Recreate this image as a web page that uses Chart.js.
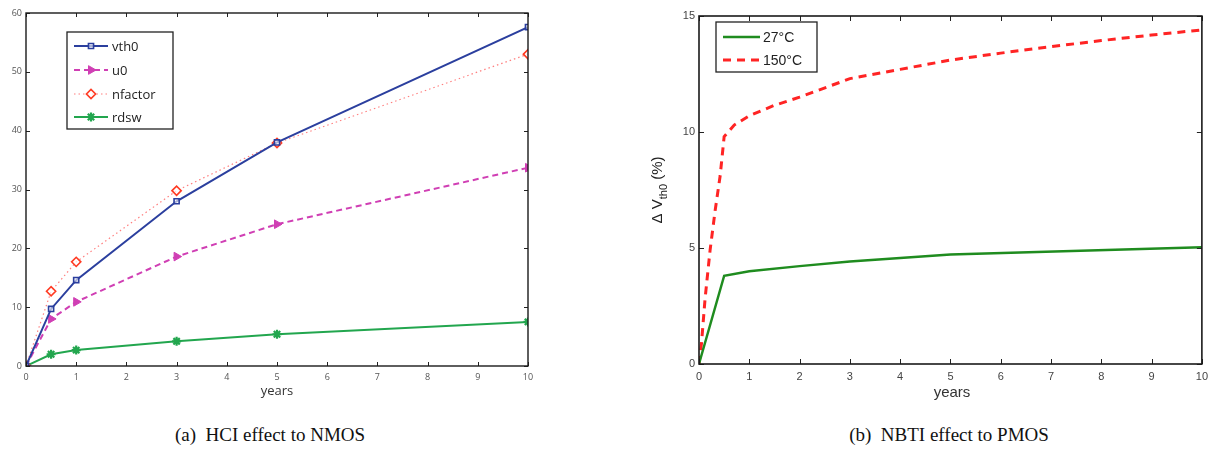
<!DOCTYPE html>
<html>
<head>
<meta charset="utf-8">
<script src="https://cdn.jsdelivr.net/npm/chart.js@4.4.1/dist/chart.umd.min.js"></script>
<style>
  html, body { margin: 0; padding: 0; background: #fff; width: 1214px; height: 467px; overflow: hidden; }
  #wrapA { position: absolute; left: 0; top: 0; width: 560px; height: 400px; }
  #wrapB { position: absolute; left: 640px; top: 0; width: 574px; height: 400px; }
  .cap { position: absolute; top: 424px; font-family: "Liberation Serif", "Times New Roman", serif; font-size: 19px; color: #111; white-space: pre; transform: translateX(-50%); }
</style>
</head>
<body>
<div id="wrapA"><canvas id="cA" width="560" height="400"></canvas></div>
<div id="wrapB"><canvas id="cB" width="574" height="400"></canvas></div>
<div class="cap" style="left:270px">(a)  HCI effect to NMOS</div>
<div class="cap" style="left:949px">(b)  NBTI effect to PMOS</div>
<script>
// ---- Data: panel (a) HCI effect to NMOS ----
const yearsA = [0, 0.5, 1, 3, 5, 10];
const vth0 = [0, 9.7, 14.6, 28.0, 38.0, 57.6];
const u0 = [0, 8.0, 10.9, 18.6, 24.1, 33.7];
const nfactor = [0, 12.7, 17.7, 29.8, 37.9, 53.0];
const rdsw = [0, 2.0, 2.7, 4.2, 5.4, 7.5];
const seriesNamesA = ["vth0", "u0", "nfactor", "rdsw"];
const xTicksA = [0, 1, 2, 3, 4, 5, 6, 7, 8, 9, 10];
const yTicksA = [0, 10, 20, 30, 40, 50, 60];

// ---- Data: panel (b) NBTI effect to PMOS ----
const years27 = [0, 0.5, 1, 2, 3, 4, 5, 10];
const dvth27 = [0, 3.8, 4.0, 4.22, 4.42, 4.57, 4.72, 5.03];
const years150 = [0, 0.05, 0.12, 0.22, 0.32, 0.42, 0.5, 0.7, 1, 1.5, 2, 3, 4, 5, 6, 7, 8, 9, 10];
const dvth150 = [0, 0.9, 2.8, 4.9, 6.6, 8.1, 9.8, 10.3, 10.7, 11.15, 11.5, 12.3, 12.7, 13.1, 13.4, 13.68, 13.94, 14.18, 14.4];
const seriesNamesB = ["27°C", "150°C"];
const xTicksB = [0, 1, 2, 3, 4, 5, 6, 7, 8, 9, 10];
const yTicksB = [0, 5, 10, 15];

const pts = (xs, ys) => xs.map((x, i) => ({ x: x, y: ys[i] }));

// Frame + inward ticks + titles + legend plugin
function makeDecor(o) {
  return {
    id: 'decor',
    afterDraw(chart) {
      const ctx = chart.ctx;
      const a = chart.chartArea;
      const xs = chart.scales.x, ys = chart.scales.y;
      ctx.save();
      // inward ticks
      ctx.strokeStyle = '#222';
      ctx.lineWidth = 1;
      ctx.beginPath();
      xs.ticks.forEach(t => {
        const px = Math.round(xs.getPixelForValue(t.value)) + 0.5;
        ctx.moveTo(px, a.bottom); ctx.lineTo(px, a.bottom - o.tick);
        ctx.moveTo(px, a.top); ctx.lineTo(px, a.top + o.tick);
      });
      ys.ticks.forEach(t => {
        const py = Math.round(ys.getPixelForValue(t.value)) + 0.5;
        ctx.moveTo(a.left, py); ctx.lineTo(a.left + o.tick, py);
        ctx.moveTo(a.right, py); ctx.lineTo(a.right - o.tick, py);
      });
      ctx.stroke();
      // frame
      ctx.lineWidth = o.frameW;
      ctx.strokeStyle = '#1a1a1a';
      ctx.strokeRect(a.left, a.top, a.right - a.left, a.bottom - a.top);
      // x title
      ctx.fillStyle = o.titleColor;
      ctx.font = o.xTitleFont;
      ctx.textAlign = 'center';
      ctx.textBaseline = 'middle';
      ctx.fillText('years', o.xTitleX, o.xTitleY);
      // y title
      if (o.drawYTitle) o.drawYTitle(ctx);
      // legend
      const L = o.legend;
      ctx.fillStyle = '#fff';
      ctx.fillRect(L.x, L.y, L.w, L.h);
      ctx.lineWidth = 1.3;
      ctx.strokeStyle = '#222';
      ctx.strokeRect(L.x, L.y, L.w, L.h);
      chart.data.datasets.forEach((ds, i) => {
        const yy = L.rowY[i];
        ctx.save();
        ctx.strokeStyle = ds.borderColor;
        ctx.lineWidth = ds.borderWidth;
        ctx.setLineDash(ds.borderDash || []);
        ctx.beginPath();
        ctx.moveTo(L.lx0, yy); ctx.lineTo(L.lx1, yy);
        ctx.stroke();
        ctx.restore();
        if (ds.pointStyle && ds.pointRadius > 0) {
          ctx.save();
          ctx.strokeStyle = ds.pointBorderColor;
          ctx.fillStyle = ds.pointBackgroundColor;
          ctx.lineWidth = ds.pointBorderWidth;
          Chart.helpers.drawPoint(ctx, { pointStyle: ds.pointStyle, rotation: ds.pointRotation || 0, radius: ds.pointRadius, borderWidth: ds.pointBorderWidth }, (L.lx0 + L.lx1) / 2, yy);
          ctx.restore();
        }
        ctx.fillStyle = '#222';
        ctx.font = L.font;
        ctx.textAlign = 'left';
        ctx.textBaseline = 'middle';
        ctx.fillText(ds.label, L.tx, yy + 1);
      });
      ctx.restore();
    }
  };
}

// ---------- Chart A ----------
new Chart(document.getElementById('cA'), {
  type: 'line',
  data: {
    datasets: [
      { label: seriesNamesA[0], data: pts(yearsA, vth0), borderColor: '#2b3f9e', borderWidth: 2,
        pointStyle: 'rect', pointRadius: 3.6, pointBorderColor: '#2b3f9e', pointBackgroundColor: 'rgba(255,255,255,0.6)', pointBorderWidth: 1.6 },
      { label: seriesNamesA[1], data: pts(yearsA, u0), borderColor: '#d03fb4', borderWidth: 2, borderDash: [6, 4],
        pointStyle: 'triangle', pointRotation: 90, pointRadius: 5, pointBorderColor: '#d03fb4', pointBackgroundColor: '#d03fb4', pointBorderWidth: 1 },
      { label: seriesNamesA[2], data: pts(yearsA, nfactor), borderColor: '#ff7f7f', borderWidth: 1.2, borderDash: [1.5, 3],
        pointStyle: 'rectRot', pointRadius: 4.6, pointBorderColor: '#ff3a22', pointBackgroundColor: 'rgba(255,255,255,0.7)', pointBorderWidth: 1.6 },
      { label: seriesNamesA[3], data: pts(yearsA, rdsw), borderColor: '#22a64e', borderWidth: 2,
        pointStyle: 'star', pointRadius: 4.5, pointBorderColor: '#22a64e', pointBackgroundColor: '#22a64e', pointBorderWidth: 2.2 }
    ]
  },
  options: {
    responsive: false, animation: false, devicePixelRatio: 1,
    layout: { padding: { left: 0, right: 32, top: 13, bottom: 0 } },
    plugins: { legend: { display: false }, tooltip: { enabled: false } },
    scales: {
      x: { type: 'linear', min: 0, max: 10,
        afterFit: s => { s.height = 34; },
        afterBuildTicks: s => { s.ticks = xTicksA.map(v => ({ value: v })); },
        grid: { display: false, drawTicks: false }, border: { display: false },
        ticks: { padding: 6, color: '#555', font: { family: 'Open Sans', size: 9 }, maxRotation: 0 } },
      y: { type: 'linear', min: 0, max: 60,
        afterFit: s => { s.width = 26; },
        afterBuildTicks: s => { s.ticks = yTicksA.map(v => ({ value: v })); },
        grid: { display: false, drawTicks: false }, border: { display: false },
        ticks: { padding: 4, color: '#555', font: { family: 'Open Sans', size: 9 } } }
    }
  },
  plugins: [makeDecor({
    tick: 4, frameW: 1.4, titleColor: '#333', xTitleFont: '13px "Open Sans"', xTitleX: 277, xTitleY: 391,
    drawYTitle: ctx => {
      ctx.save();
      ctx.translate(-2, 178);
      ctx.rotate(-Math.PI / 2);
      ctx.font = '13px "Open Sans"';
      ctx.fillStyle = '#777';
      ctx.textAlign = 'center';
      ctx.textBaseline = 'alphabetic';
      ctx.fillText('\u0394 Parameter (%)', 0, 0);
      ctx.restore();
    },
    legend: { x: 67, y: 32, w: 106, h: 97, lx0: 74, lx1: 108, tx: 112, rowY: [46, 70, 94, 117], font: '13px "Open Sans"' }
  })]
});

// ---------- Chart B ----------
new Chart(document.getElementById('cB'), {
  type: 'line',
  data: {
    datasets: [
      { label: seriesNamesB[0], data: pts(years27, dvth27), borderColor: '#1f8c1f', borderWidth: 2.4, pointRadius: 0 },
      { label: seriesNamesB[1], data: pts(years150, dvth150), borderColor: '#ff2424', borderWidth: 3, borderDash: [8, 6], pointRadius: 0 }
    ]
  },
  options: {
    responsive: false, animation: false, devicePixelRatio: 1,
    layout: { padding: { left: 0, right: 11, top: 16, bottom: 0 } },
    plugins: { legend: { display: false }, tooltip: { enabled: false } },
    scales: {
      x: { type: 'linear', min: 0, max: 10,
        afterFit: s => { s.height = 36; },
        afterBuildTicks: s => { s.ticks = xTicksB.map(v => ({ value: v })); },
        grid: { display: false, drawTicks: false }, border: { display: false },
        ticks: { padding: 6, color: '#444', font: { family: 'Liberation Sans', size: 11 }, maxRotation: 0 } },
      y: { type: 'linear', min: 0, max: 15,
        afterFit: s => { s.width = 59; },
        afterBuildTicks: s => { s.ticks = yTicksB.map(v => ({ value: v })); },
        grid: { display: false, drawTicks: false }, border: { display: false },
        ticks: { padding: 4, color: '#444', font: { family: 'Liberation Sans', size: 11 } } }
    }
  },
  plugins: [makeDecor({
    tick: 5, frameW: 1.6, titleColor: '#333', xTitleFont: '15px "Liberation Sans"', xTitleX: 312, xTitleY: 393,
    drawYTitle: ctx => {
      ctx.save();
      ctx.translate(22, 190);
      ctx.rotate(-Math.PI / 2);
      ctx.fillStyle = '#222';
      ctx.textBaseline = 'alphabetic';
      ctx.textAlign = 'left';
      const big = '15px "Liberation Sans"', small = '11px "Liberation Sans"';
      ctx.font = big; const w1 = ctx.measureText('\u0394 V').width;
      ctx.font = small; const w2 = ctx.measureText('th0').width;
      ctx.font = big; const w3 = ctx.measureText(' (%)').width;
      let x0 = -(w1 + w2 + w3) / 2;
      ctx.font = big; ctx.fillText('\u0394 V', x0, 0); x0 += w1;
      ctx.font = small; ctx.fillText('th0', x0, 5); x0 += w2;
      ctx.font = big; ctx.fillText(' (%)', x0, 0);
      ctx.restore();
    },
    legend: { x: 76, y: 22, w: 101, h: 50, lx0: 83, lx1: 120, tx: 123, rowY: [37, 60], font: '14px "Liberation Sans"' }
  })]
});
</script>
</body>
</html>
